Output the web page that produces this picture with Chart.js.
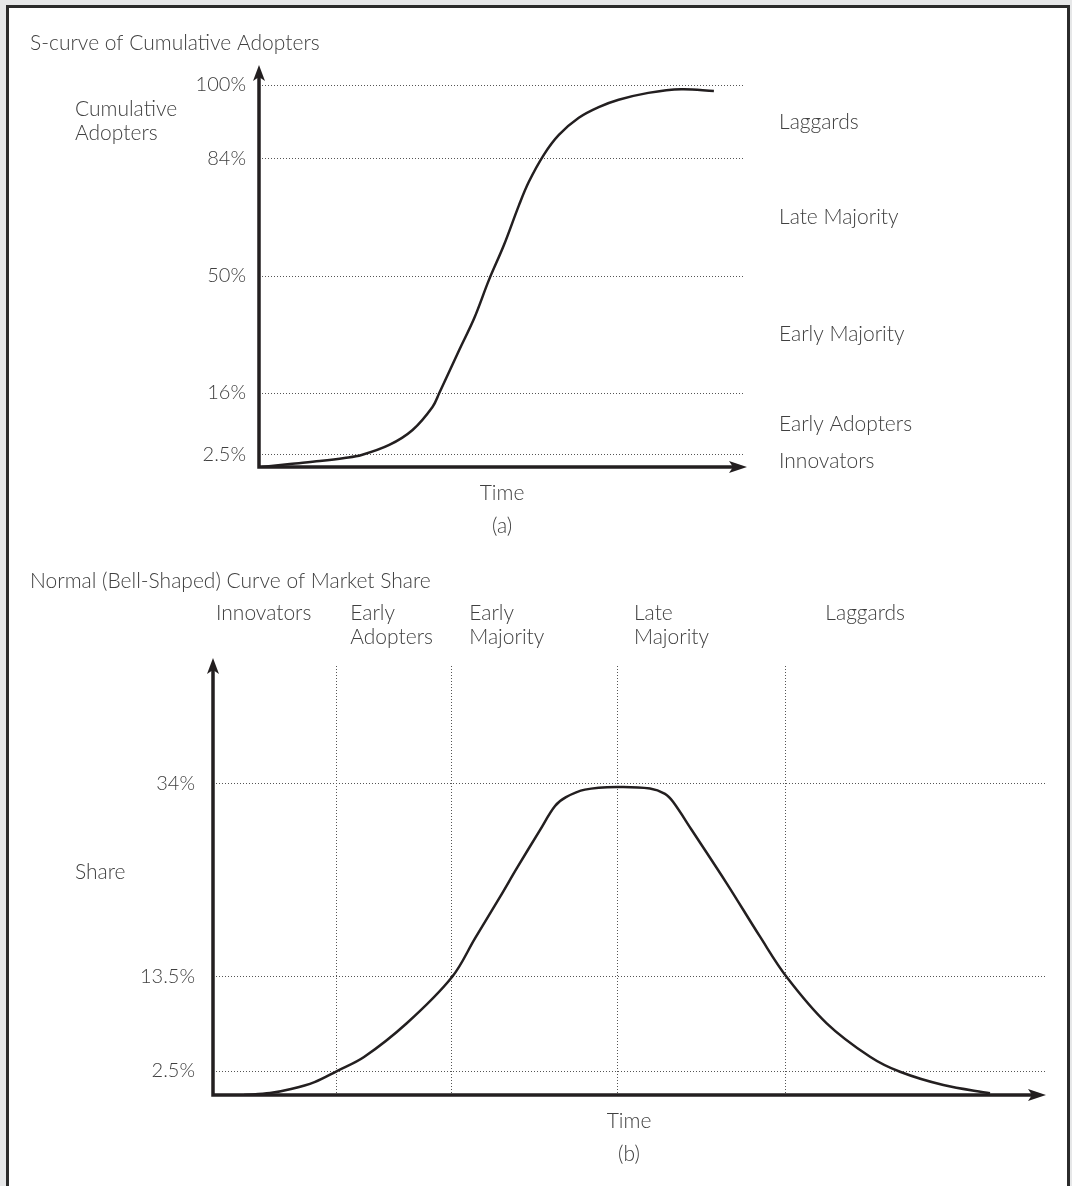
<!DOCTYPE html>
<html>
<head>
<meta charset="utf-8">
<script src="https://cdn.jsdelivr.net/npm/chart.js@4.4.0/dist/chart.umd.min.js"></script>
<style>
    html, body { margin: 0; padding: 0; }
    body { width: 1072px; height: 1186px; background: #e6e7e8; position: relative; overflow: hidden; }
    #frame { position: absolute; left: 6px; top: 5px; width: 1058px; height: 1200px; background: #fff; border: 3px solid #2b2b2b; border-bottom: none; }
    canvas { position: absolute; left: 0; }
    #topChart { top: 0; }
    #bottomChart { top: 560px; }
</style>
</head>
<body>
<div id="frame"></div>
<canvas id="topChart" width="1072" height="560"></canvas>
<canvas id="bottomChart" width="1072" height="626"></canvas>
<script>
// S-curve of cumulative adopters (time in arbitrary units 0-100)
const sTime = [0.6, 6.35, 12.5, 17.6, 21.1, 26.8, 31.6, 35.7, 37.1, 41.2, 44.3, 47.3, 50.4, 53.5, 55.5, 58.6, 61.7, 65.8, 69.9, 74.0, 80.1, 86.9, 93.6];
const sCumulative = [0, 0.63, 1.25, 1.88, 2.5, 4.68, 7.94, 12.95, 16, 28.5, 37.8, 48.8, 59.0, 70.6, 77.3, 84.9, 89.2, 92.9, 95.2, 96.8, 98.3, 99.1, 98.7];
const cumTicks = [2.5, 16, 50, 84, 100];
const adopterGroups = ['Innovators', 'Early Adopters', 'Early Majority', 'Late Majority', 'Laggards'];

// Bell curve of market share
const bellTime = [3.73, 6.85, 9.38, 12.2, 14.9, 18.15, 23.32, 28.73, 31.49, 34.5, 36.54, 39.3, 41.11, 42.43, 44.71, 48.56, 52.52, 54.33, 55.29, 57.54, 61.74, 65.75, 68.95, 73.76, 78.97, 82.57, 87.78, 93.39];
const bellShare = [0, 0.2, 0.62, 1.35, 2.5, 4.14, 8.12, 13.5, 17.6, 22.0, 25.08, 29.1, 31.66, 32.6, 33.4, 33.68, 33.52, 32.94, 32.1, 29.11, 23.45, 17.78, 13.5, 8.08, 4.17, 2.42, 1.04, 0.18];
const shareTicks = [2.5, 13.5, 34];
const phaseBounds = [14.9, 28.7, 48.56, 68.8];
const phaseLabels = ['Innovators', 'Early\nAdopters', 'Early\nMajority', 'Late\nMajority', 'Laggards'];

// layout: schematic spacing of the percentage axes (value -> fraction of axis height)
const topAnchors = [[0, 0], [2.5, 0.03085], [16, 0.1902], [50, 0.491], [84, 0.7918], [100, 0.982], [101.5, 1]];
const bottomAnchors = [[0, 0], [2.5, 0.0559], [13.5, 0.2751], [34, 0.725], [46.5, 1]];
const phaseLabelX = [0.36, 16.5, 30.8, 50.6, 73.6];

const INK = '#231f20';
const TEXT = '#404040';
const FONT = '300 21px Lato';
Chart.defaults.font.family = 'Lato';
Chart.defaults.font.size = 20;
Chart.defaults.font.weight = 300;
Chart.defaults.color = TEXT;

function interp(pairs, v, from, to) {
    for (let i = 1; i < pairs.length; i++) {
        const a = pairs[i - 1], b = pairs[i];
        if (v <= b[from] || i === pairs.length - 1) {
            return a[to] + (v - a[from]) * (b[to] - a[to]) / (b[from] - a[from]);
        }
    }
}

// linear scale with piecewise spacing between the labelled percentages
class AnchoredScale extends Chart.LinearScale {
    getPixelForValue(value) {
        if (value === null || value === undefined) return NaN;
        return this.getPixelForDecimal(interp(this.anchors, value, 0, 1));
    }
    getValueForPixel(pixel) {
        return interp(this.anchors, this.getDecimalForPixel(pixel), 1, 0);
    }
}
AnchoredScale.id = 'anchored';
AnchoredScale.defaults = Chart.LinearScale.defaults;
Chart.register(AnchoredScale);

function axisArrows(yTipOffset, xTipOffset) {
    return {
        id: 'axisArrows',
        afterDraw(chart) {
            const { ctx, chartArea: { left, right, top, bottom } } = chart;
            const yTip = top - yTipOffset, xTip = right + xTipOffset;
            ctx.save();
            ctx.strokeStyle = INK;
            ctx.fillStyle = INK;
            ctx.lineWidth = 3.5;
            ctx.beginPath();
            ctx.moveTo(left, bottom + 1.75);
            ctx.lineTo(left, yTip + 10);
            ctx.moveTo(left - 1.75, bottom);
            ctx.lineTo(xTip - 10, bottom);
            ctx.stroke();
            ctx.beginPath();
            ctx.moveTo(left, yTip);
            ctx.lineTo(left - 6, yTip + 16);
            ctx.lineTo(left, yTip + 12);
            ctx.lineTo(left + 6, yTip + 16);
            ctx.closePath();
            ctx.moveTo(xTip, bottom);
            ctx.lineTo(xTip - 18, bottom - 6);
            ctx.lineTo(xTip - 14, bottom);
            ctx.lineTo(xTip - 18, bottom + 6);
            ctx.closePath();
            ctx.fill();
            ctx.restore();
        }
    };
}

function textLayer(itemsFor) {
    return {
        id: 'textLayer',
        afterDraw(chart) {
            const ctx = chart.ctx;
            ctx.save();
            ctx.font = FONT;
            ctx.fillStyle = TEXT;
            ctx.textBaseline = 'middle';
            itemsFor(chart).forEach(it => {
                ctx.textAlign = it.align || 'left';
                ctx.fillText(it.text, it.x, it.y);
            });
            ctx.restore();
        }
    };
}

const dotted = { display: false, dash: [1, 2] };
const gridStyle = { color: '#555', lineWidth: 1, drawTicks: false };
const curveStyle = { borderColor: INK, borderWidth: 2.5, pointRadius: 0, tension: 0.35, fill: false };

// (a) S-curve
new Chart(document.getElementById('topChart'), {
    type: 'line',
    data: {
        datasets: [Object.assign({ data: sTime.map((t, i) => ({ x: t, y: sCumulative[i] })) }, curveStyle)]
    },
    options: {
        responsive: false,
        animation: false,
        devicePixelRatio: 1,
        layout: { padding: { left: 159, top: 78, right: 327, bottom: 13 } },
        plugins: { legend: { display: false }, tooltip: { enabled: false } },
        scales: {
            x: {
                type: 'linear', min: 0, max: 100,
                grid: { display: false }, ticks: { display: false }, border: { display: false },
                afterFit: s => { s.height = 80; }
            },
            y: {
                type: 'anchored', min: 0, max: 101.5,
                afterDataLimits: s => { s.anchors = topAnchors; },
                afterBuildTicks: s => { s.ticks = cumTicks.map(v => ({ value: v })); },
                ticks: { callback: v => v + '%', padding: 13 },
                grid: gridStyle,
                border: dotted,
                afterFit: s => { s.width = 100; }
            }
        }
    },
    plugins: [
        axisArrows(13, 2),
        textLayer(chart => {
            const { left, right, bottom } = chart.chartArea;
            const y = chart.scales.y;
            const bounds = [0].concat(cumTicks);
            const items = [
                { text: 'S-curve of Cumulative Adopters', x: 30, y: 43 },
                { text: 'Cumulative', x: 75, y: 109 },
                { text: 'Adopters', x: 75, y: 133 },
                { text: 'Time', x: (left + right) / 2, y: bottom + 26, align: 'center' },
                { text: '(a)', x: (left + right) / 2, y: bottom + 59, align: 'center' }
            ];
            adopterGroups.forEach((g, i) => {
                items.push({ text: g, x: right + 34, y: (y.getPixelForValue(bounds[i]) + y.getPixelForValue(bounds[i + 1])) / 2 });
            });
            return items;
        })
    ]
});

// (b) bell curve
new Chart(document.getElementById('bottomChart'), {
    type: 'line',
    data: {
        datasets: [Object.assign({ data: bellTime.map((t, i) => ({ x: t, y: bellShare[i] })) }, curveStyle)]
    },
    options: {
        responsive: false,
        animation: false,
        devicePixelRatio: 1,
        layout: { padding: { left: 113, top: 106, right: 27, bottom: 11 } },
        plugins: { legend: { display: false }, tooltip: { enabled: false } },
        scales: {
            x: {
                type: 'linear', min: 0, max: 100,
                afterBuildTicks: s => { s.ticks = phaseBounds.map(v => ({ value: v })); },
                grid: gridStyle, ticks: { display: false }, border: dotted,
                afterFit: s => { s.height = 80; }
            },
            y: {
                type: 'anchored', min: 0, max: 46.5,
                afterDataLimits: s => { s.anchors = bottomAnchors; },
                afterBuildTicks: s => { s.ticks = shareTicks.map(v => ({ value: v })); },
                ticks: { callback: v => v + '%', padding: 18 },
                grid: gridStyle,
                border: dotted,
                afterFit: s => { s.width = 100; }
            }
        }
    },
    plugins: [
        axisArrows(8, 1),
        textLayer(chart => {
            const { left, right, bottom } = chart.chartArea;
            const x = chart.scales.x;
            const items = [
                { text: 'Normal (Bell-Shaped) Curve of Market Share', x: 30, y: 21 },
                { text: 'Share', x: 75, y: 312 },
                { text: 'Time', x: (left + right) / 2, y: bottom + 26, align: 'center' },
                { text: '(b)', x: (left + right) / 2, y: bottom + 59, align: 'center' }
            ];
            phaseLabels.forEach((p, i) => {
                p.split('\n').forEach((line, j) => {
                    items.push({ text: line, x: x.getPixelForValue(phaseLabelX[i]), y: 53 + j * 24 });
                });
            });
            return items;
        })
    ]
});
</script>
</body>
</html>
